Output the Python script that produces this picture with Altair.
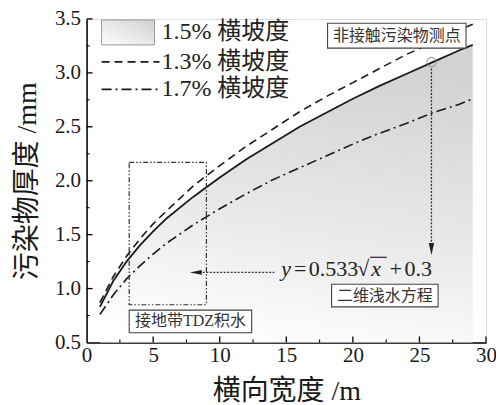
import altair as alt
import pandas as pd

# ---- data ----
x_vals = [1, 2, 3, 4, 5, 6, 8, 10, 12, 14, 16, 18, 20, 22, 24, 26, 28, 29]
y_slope15 = [0.83, 1.07, 1.25, 1.40, 1.53, 1.65, 1.85, 2.03, 2.20, 2.35, 2.50, 2.63, 2.76, 2.88, 2.99, 3.10, 3.21, 3.26]
y_slope13 = [0.87, 1.11, 1.30, 1.46, 1.60, 1.72, 1.95, 2.14, 2.32, 2.48, 2.64, 2.78, 2.91, 3.04, 3.17, 3.28, 3.40, 3.45]
y_slope17 = [0.76, 0.94, 1.09, 1.21, 1.32, 1.42, 1.59, 1.74, 1.88, 2.01, 2.12, 2.23, 2.34, 2.44, 2.53, 2.63, 2.71, 2.76]

legend_labels = ["1.5% 横坡度", "1.3% 横坡度", "1.7% 横坡度"]

x_ticks = [0, 5, 10, 15, 20, 25, 30]
x_minor = [2.5, 7.5, 12.5, 17.5, 22.5, 27.5]
y_ticks = [0.5, 1.0, 1.5, 2.0, 2.5, 3.0, 3.5]
y_minor = [0.75, 1.25, 1.75, 2.25, 2.75, 3.25]

marker_x, marker_y = [25.9], [3.10]
tdz_x, tdz_y = [3.2, 9.0], [0.85, 2.17]
box_labels = ["非接触污染物测点", "接地带TDZ积水", "二维浅水方程"]
box_x1 = [18.1, 3.2, 18.4]
box_x2 = [28.5, 12.4, 26.4]
box_y1 = [3.23, 0.59, 0.83]
box_y2 = [3.46, 0.80, 1.04]

SERIF = "Liberation Serif, Noto Sans CJK SC"
INK = "#1a1a1a"

xs = alt.Scale(domain=[0, 30], nice=False, zero=False)
ys = alt.Scale(domain=[0.5, 3.5], nice=False, zero=False)
x_axis = alt.Axis(values=x_ticks, format="d", title="横向宽度 /m", ticks=False, grid=False,
                  domainColor="black", domainWidth=1.5, labelFont="Liberation Serif",
                  labelFontSize=21, labelColor=INK, labelPadding=2, labelFlush=False,
                  labelOverlap=False, titleFont=SERIF, titleFontSize=28,
                  titleFontWeight="normal", titleColor=INK, titlePadding=12)
y_axis = alt.Axis(values=y_ticks, format=".1f", title="污染物厚度 /mm", ticks=False, grid=False,
                  domainColor="black", domainWidth=1.5, labelFont="Liberation Serif",
                  labelFontSize=21, labelColor=INK, labelPadding=6, labelFlush=False,
                  labelOverlap=False, titleFont=SERIF, titleFontSize=28,
                  titleFontWeight="normal", titleColor=INK, titlePadding=13)
X = alt.X("x:Q", scale=xs, axis=x_axis)
Y = alt.Y("y:Q", scale=ys, axis=y_axis)

df15 = pd.DataFrame({"x": x_vals, "y": y_slope15})
df13 = pd.DataFrame({"x": x_vals, "y": y_slope13})
df17 = pd.DataFrame({"x": x_vals, "y": y_slope17})

grad = alt.Gradient(gradient="linear",
                    stops=[alt.GradientStop(color="#d2d2d2", offset=0),
                           alt.GradientStop(color="#e8e8e8", offset=0.55),
                           alt.GradientStop(color="#ffffff", offset=1)],
                    x1=0.5, x2=0.3, y1=0, y2=1)

area = alt.Chart(df15).mark_area(color=grad).encode(x=X, y=Y, y2=alt.datum(0.5))
line15 = alt.Chart(df15).mark_line(color=INK, strokeWidth=1.8).encode(x=X, y=Y)
line13 = alt.Chart(df13).mark_line(color=INK, strokeWidth=1.6, strokeDash=[8, 5]).encode(x=X, y=Y)
line17 = alt.Chart(df17).mark_line(color=INK, strokeWidth=1.6, strokeDash=[10, 4, 2, 4]).encode(x=X, y=Y)

# ---- inward ticks ----
xt_major = alt.Chart(pd.DataFrame({"x": x_ticks[1:]})).mark_rule(color="black", strokeWidth=1.3).encode(
    x=X, y=alt.value(324), y2=alt.value(318))
xt_minor = alt.Chart(pd.DataFrame({"x": x_minor})).mark_rule(color="black", strokeWidth=1.1).encode(
    x=X, y=alt.value(324), y2=alt.value(321))
yt_major = alt.Chart(pd.DataFrame({"y": y_ticks[1:]})).mark_rule(color="black", strokeWidth=1.3).encode(
    y=Y, x=alt.value(0), x2=alt.value(6))
yt_minor = alt.Chart(pd.DataFrame({"y": y_minor})).mark_rule(color="black", strokeWidth=1.1).encode(
    y=Y, x=alt.value(0), x2=alt.value(3))

# ---- annotations ----
marker = alt.Chart(pd.DataFrame({"x": marker_x, "y": marker_y})).mark_point(
    shape="circle", size=85, filled=False, color="#888", strokeWidth=1.3).encode(x=X, y=Y)

down_rule = alt.Chart(pd.DataFrame({"x": marker_x, "y": [3.04], "y2": [1.37]})).mark_rule(
    color="#333", strokeWidth=1.3, strokeDash=[2, 1.5]).encode(x=X, y=Y, y2="y2:Q")
down_head = alt.Chart(pd.DataFrame({"x": marker_x, "y": [1.366]})).mark_point(
    shape="M-0.45,-1L0.45,-1L0,1Z", size=144, filled=True, color="#222", opacity=1).encode(x=X, y=Y)

left_rule = alt.Chart(pd.DataFrame({"x": [8.2], "x2": [14.1], "y": [1.15]})).mark_rule(
    color="#333", strokeWidth=1.3, strokeDash=[2, 1.5]).encode(x=X, x2="x2:Q", y=Y)
left_head = alt.Chart(pd.DataFrame({"x": [8.2], "y": [1.15]})).mark_point(
    shape="M1,-0.4L1,0.4L-1,0Z", size=144, filled=True, color="#222", opacity=1).encode(x=X, y=Y)

tdz = alt.Chart(pd.DataFrame({"x": [tdz_x[0]], "x2": [tdz_x[1]], "y": [tdz_y[0]], "y2": [tdz_y[1]]})).mark_rect(
    fill="transparent", stroke="#333", strokeWidth=1.2, strokeDash=[5, 2, 1.5, 2, 1.5, 2]).encode(
    x=X, x2="x2:Q", y=Y, y2="y2:Q")

boxes_df = pd.DataFrame({"label": box_labels, "x": box_x1, "x2": box_x2, "y": box_y1, "y2": box_y2})
boxes_df["xc"] = (boxes_df["x"] + boxes_df["x2"]) / 2
boxes_df["yc"] = (boxes_df["y"] + boxes_df["y2"]) / 2
box_rects = alt.Chart(boxes_df).mark_rect(fill="white", stroke="#444", strokeWidth=1.1).encode(
    x=X, x2="x2:Q", y=Y, y2="y2:Q")
box_texts = alt.Chart(boxes_df).mark_text(font=SERIF, fontSize=16, color="#333", baseline="middle").encode(
    x=alt.X("xc:Q", scale=xs, axis=x_axis), y=alt.Y("yc:Q", scale=ys, axis=y_axis), text="label:N")

# equation pieces: y = 0.533 sqrt(x) + 0.3
eq_x, eq_y = 14.625, 1.118
eq_parts = [("y", 0, "italic"), ("=", 12.6, "normal"), ("0.533", 27.6, "normal"),
            ("√", 76, "normal"), ("x", 90, "italic"), ("+", 108.3, "normal"), ("0.3", 123.3, "normal")]
eq_layers = []
for txt, dx, style in eq_parts:
    eq_layers.append(alt.Chart(pd.DataFrame({"x": [eq_x], "y": [eq_y], "t": [txt]})).mark_text(
        font="Liberation Serif", fontSize=22, fontStyle=style, align="left", baseline="alphabetic",
        dx=dx, color="#222").encode(x=X, y=Y, text="t:N"))
overline = alt.Chart(pd.DataFrame({"x": [21.3], "x2": [22.55], "y": [1.29]})).mark_rule(
    color="#222", strokeWidth=1.2).encode(x=X, x2="x2:Q", y=Y)

# ---- hand-drawn legend (top-left) ----
one = pd.DataFrame({"k": [0]})
swatch_grad = alt.Gradient(gradient="linear",
                           stops=[alt.GradientStop(color="#d0d0d0", offset=0),
                                  alt.GradientStop(color="#ffffff", offset=1)],
                           x1=1, x2=0, y1=0, y2=1)
leg_swatch = alt.Chart(one).mark_rect(color=swatch_grad, stroke="#999", strokeWidth=1).encode(
    x=alt.value(15), x2=alt.value(68), y=alt.value(1), y2=alt.value(26))
leg_dash = alt.Chart(one).mark_rule(color=INK, strokeWidth=1.6, strokeDash=[8, 5]).encode(
    x=alt.value(15), x2=alt.value(73), y=alt.value(43))
leg_dot = alt.Chart(one).mark_rule(color=INK, strokeWidth=1.6, strokeDash=[10, 4, 2, 4]).encode(
    x=alt.value(15), x2=alt.value(73), y=alt.value(70.5))
leg_texts = []
for lab, yy in zip(legend_labels, [13.5, 43, 70.5]):
    leg_texts.append(alt.Chart(pd.DataFrame({"t": [lab]})).mark_text(
        font=SERIF, fontSize=24, align="left", baseline="middle", color="#222").encode(
        x=alt.value(75), y=alt.value(yy), text="t:N"))

chart = alt.layer(
    area, line17, line13, line15,
    xt_major, xt_minor, yt_major, yt_minor,
    tdz, down_rule, down_head, left_rule, left_head, marker,
    box_rects, box_texts, *eq_layers, overline,
    leg_swatch, leg_dash, leg_dot, *leg_texts,
).properties(
    width=400, height=324,
    autosize=alt.AutoSizeParams(type="none"),
    padding={"left": 78.7, "top": 10.7, "right": 10, "bottom": 62},
).configure_view(stroke=None).configure(background="white")

chart.save("out.html", embed_options={"renderer": "svg", "actions": False})
